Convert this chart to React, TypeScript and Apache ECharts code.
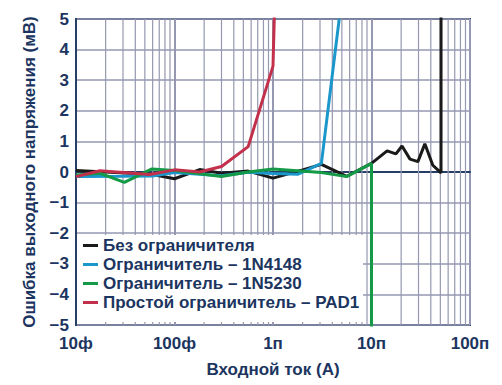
import React, { useEffect, useRef } from "react";
import * as echarts from "echarts";

const seriesNames = [
  "Без ограничителя",
  "Ограничитель – 1N4148",
  "Ограничитель – 1N5230",
  "Простой ограничитель – PAD1",
];
const seriesColors = ["#1a1a1a", "#1b97cc", "#149a46", "#c3304c"];

// [input current (A), output error (mV)]
const noLimiter: [number, number][] = [
  [1e-14, 0.05], [2e-14, 0.0], [6e-14, -0.08], [1e-13, -0.22], [1.8e-13, 0.08],
  [3e-13, -0.04], [5.6e-13, 0.03], [1e-12, -0.2], [2e-12, 0.07], [3.1e-12, 0.25],
  [5.6e-12, -0.14], [1e-11, 0.28], [1.44e-11, 0.69], [1.77e-11, 0.59], [2.04e-11, 0.85],
  [2.46e-11, 0.42], [2.96e-11, 0.34], [3.48e-11, 0.92], [4.19e-11, 0.22], [5.08e-11, -0.03],
  [5.08e-11, 6],
];
const limiter1N4148: [number, number][] = [
  [1e-14, -0.15], [3e-14, -0.14], [6e-14, -0.13], [1e-13, -0.02], [3e-13, -0.12],
  [5.6e-13, -0.01], [1e-12, -0.05], [1.8e-12, -0.07], [3.1e-12, 0.28], [4.7e-12, 5],
];
const limiter1N5230: [number, number][] = [
  [1e-14, -0.1], [1.75e-14, -0.04], [3.1e-14, -0.34], [5.9e-14, 0.1], [1e-13, 0.05],
  [3e-13, -0.15], [5.6e-13, 0.0], [1e-12, 0.1], [3.1e-12, -0.02], [5.6e-12, -0.15],
  [1e-11, 0.28], [1e-11, -6],
];
const limiterPAD1: [number, number][] = [
  [1e-14, -0.15], [1.75e-14, 0.04], [5.6e-14, -0.08], [1e-13, 0.07], [1.8e-13, 0.0],
  [3e-13, 0.18], [5.6e-13, 0.83], [1e-12, 3.46], [1.05e-12, 6],
];
const allSeries = [noLimiter, limiter1N4148, limiter1N5230, limiterPAD1];

const decadeExponents = [-14, -13, -12, -11, -10];
const decadeLabels = ["10ф", "100ф", "1п", "10п", "100п"];
const minorMultipliers = [2, 3, 4, 5, 6, 7, 8, 9];
const yMin = -5;
const yMax = 5;

const TEXT = "#1c3560";
const GRID = "#9598b0";
const FONT = "'Liberation Sans', Arial, sans-serif";
const FS = 17;

export default function App() {
  const ref = useRef<HTMLDivElement>(null);
  useEffect(() => {
    if (!ref.current) return;
    const chart = echarts.init(ref.current, undefined, { renderer: "svg" });
    const minorValues: number[][] = [];
    decadeExponents.slice(0, -1).forEach((e) =>
      minorMultipliers.forEach((m) => minorValues.push([m * Math.pow(10, e), 0]))
    );
    const lineSeries: any[] = allSeries.map((d, i) => ({
      name: seriesNames[i],
      type: "line",
      data: d,
      showSymbol: false,
      symbol: "none",
      clip: true,
      z: 3 + i,
      lineStyle: { color: seriesColors[i], width: 3 },
      itemStyle: { color: seriesColors[i] },
    }));
    const minorGrid = {
      name: "minor",
      type: "custom",
      z: 1,
      silent: true,
      data: minorValues,
      renderItem: (params: any, api: any) => {
        const v = api.value(0);
        const p1 = api.coord([v, yMin]);
        const p2 = api.coord([v, yMax]);
        return {
          type: "line",
          shape: { x1: p1[0], y1: p1[1], x2: p2[0], y2: p2[1] },
          style: { stroke: GRID, lineWidth: 1.2 },
          silent: true,
        };
      },
    };
    chart.setOption({
      animation: false,
      textStyle: { fontFamily: FONT },
      grid: {
        left: 76, top: 19, width: 394, height: 306,
        show: true, borderColor: "#243e66", borderWidth: 2,
        outerBoundsMode: "none",
      },
      xAxis: {
        type: "log", logBase: 10, min: 1e-14, max: 1e-10, splitNumber: 4,
        name: "Входной ток (A)", nameLocation: "middle", nameGap: 36,
        nameTextStyle: { color: TEXT, fontSize: FS, fontWeight: "bold", fontFamily: FONT },
        axisLine: { show: true, lineStyle: { color: "#243e66", width: 2 } },
        axisTick: { show: false },
        axisLabel: {
          color: TEXT, fontSize: FS, fontWeight: "bold", fontFamily: FONT, margin: 10,
          formatter: (v: number) => {
            const idx = decadeExponents.indexOf(Math.round(Math.log10(v)));
            return idx >= 0 ? decadeLabels[idx] : "";
          },
        },
        splitLine: { show: true, lineStyle: { color: GRID, width: 2 } },
      },
      yAxis: {
        type: "value", min: yMin, max: yMax, interval: 1,
        name: "Ошибка выходного напряжения (мВ)", nameLocation: "middle", nameGap: 38,
        nameTextStyle: { color: TEXT, fontSize: FS, fontWeight: "bold", fontFamily: FONT },
        axisLine: { show: true, lineStyle: { color: "#243e66", width: 2 } },
        axisTick: { show: false },
        axisLabel: {
          color: TEXT, fontSize: FS, fontWeight: "bold", fontFamily: FONT, margin: 7,
          formatter: (v: number) => (v < 0 ? "−" + Math.abs(v) : String(v)),
        },
        splitLine: { show: true, lineStyle: { color: GRID, width: 1.5 } },
      },
      legend: {
        data: seriesNames,
        orient: "vertical",
        left: 79, top: 236,
        padding: [0, 0, 0, 4],
        itemGap: 0,
        itemWidth: 15, itemHeight: 3,
        icon: "rect",
        z: 10,
        textStyle: { color: TEXT, fontSize: FS, fontWeight: "bold", fontFamily: FONT, lineHeight: 19, height: 19 },
      },
      graphic: [
        {
          type: "rect", z: 8, silent: true,
          shape: { x: 77, y: 235, width: 286, height: 87 },
          style: { fill: "#ffffff" },
        },
      ],
      series: [minorGrid, ...lineSeries],
    });
    return () => chart.dispose();
  }, []);
  return (
    <div
      ref={ref}
      style={{ position: "fixed", left: 0, top: 0, width: 502, height: 385, background: "#fff" }}
    />
  );
}
